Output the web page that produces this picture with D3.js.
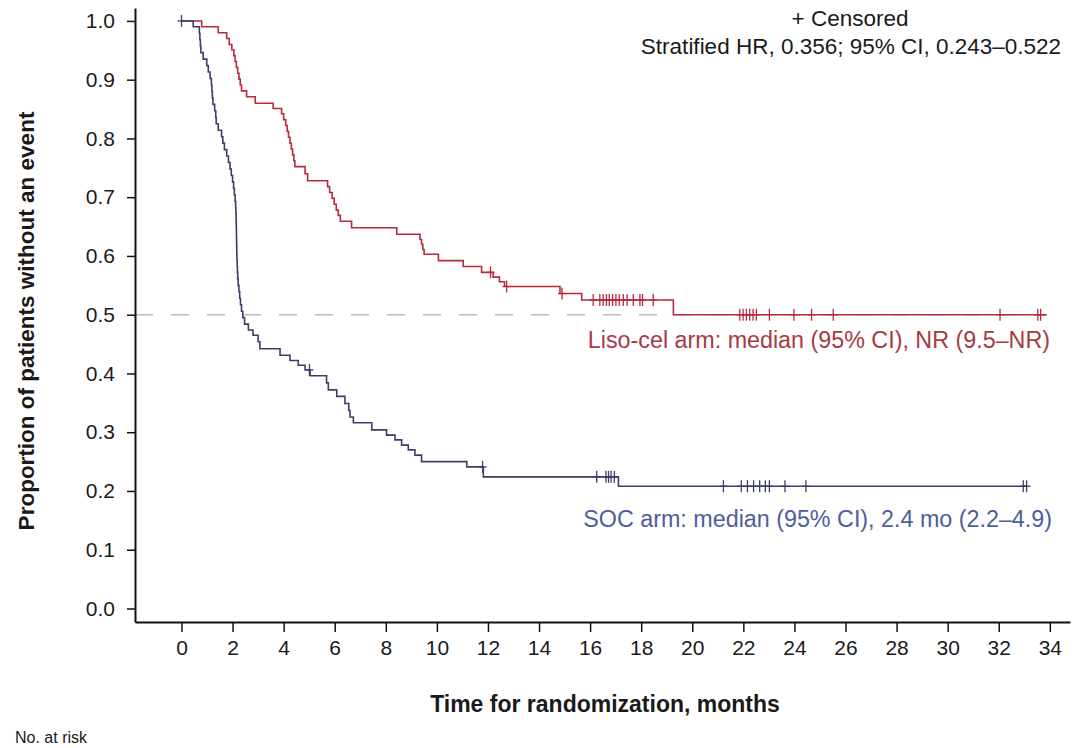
<!DOCTYPE html>
<html>
<head>
<meta charset="utf-8">
<script src="https://cdn.jsdelivr.net/npm/d3@7"></script>
<style>
  html, body { margin: 0; padding: 0; background: #ffffff; }
  svg { display: block; font-family: "Liberation Sans", Arial, sans-serif; }
</style>
</head>
<body>
<svg id="chart" width="1082" height="748"></svg>
<script>
// Kaplan–Meier event-free survival by arm (months from randomization)
const lisoEventTimes = [0.79, 1.44, 1.77, 1.87, 1.97, 2.05, 2.10, 2.15, 2.20, 2.25, 2.30, 2.35, 2.55, 2.89,
  3.59, 3.92, 4.00, 4.08, 4.14, 4.19, 4.25, 4.30, 4.35, 4.40, 4.44, 4.84, 4.94,
  5.72, 5.80, 5.90, 5.98, 6.06, 6.14, 6.22, 6.66, 8.43, 9.34, 9.40, 9.45, 9.50,
  10.06, 11.03, 11.75, 12.20, 12.45, 12.65, 14.82, 15.67, 19.26];
const lisoSurvival = [0.990, 0.980, 0.970, 0.960, 0.951, 0.941, 0.931, 0.921, 0.911, 0.901, 0.891, 0.881, 0.871, 0.860,
  0.851, 0.842, 0.832, 0.822, 0.812, 0.802, 0.792, 0.782, 0.772, 0.762, 0.752, 0.740, 0.728,
  0.718, 0.708, 0.698, 0.688, 0.678, 0.669, 0.659, 0.648, 0.637, 0.628, 0.620, 0.611, 0.603,
  0.592, 0.582, 0.572, 0.564, 0.556, 0.548, 0.536, 0.525, 0.500];
const lisoCensored = [12.10, 12.73, 14.90, 16.12, 16.38, 16.51, 16.64, 16.75, 16.88, 17.01, 17.14, 17.30, 17.45,
  17.69, 17.95, 18.05, 18.47, 21.86, 21.99, 22.12, 22.25, 22.38, 22.51, 23.02, 23.98, 24.67, 25.52,
  32.05, 33.53, 33.64];
const lisoLastFollowUp = 33.88;

const socEventTimes = [0.46, 0.70, 0.72, 0.74, 0.76, 0.85, 0.99, 1.05, 1.12, 1.17, 1.19, 1.21, 1.23, 1.30,
  1.34, 1.36, 1.44, 1.57, 1.62, 1.68, 1.77, 1.84, 1.90, 1.95, 2.00, 2.04, 2.07, 2.10, 2.12, 2.13,
  2.14, 2.145, 2.15, 2.155, 2.16, 2.165, 2.17, 2.18, 2.19, 2.20, 2.22, 2.25, 2.28, 2.31, 2.35,
  2.40, 2.47, 2.62, 2.80, 3.00, 3.07, 3.86, 4.25, 4.57, 4.84, 5.04, 5.68, 5.75, 6.08, 6.40,
  6.55, 6.60, 6.73, 7.45, 8.03, 8.36, 8.62, 8.88, 9.14, 9.40, 11.17, 11.82, 17.11];
const socSurvival = [0.990, 0.979, 0.968, 0.957, 0.946, 0.935, 0.924, 0.913, 0.902, 0.891, 0.880, 0.869, 0.858, 0.847,
  0.836, 0.825, 0.814, 0.803, 0.792, 0.781, 0.770, 0.759, 0.748, 0.737, 0.726, 0.715, 0.704, 0.693, 0.682, 0.671,
  0.660, 0.649, 0.638, 0.627, 0.616, 0.605, 0.594, 0.583, 0.572, 0.561, 0.550, 0.539, 0.528, 0.517, 0.506,
  0.495, 0.484, 0.474, 0.465, 0.454, 0.442, 0.431, 0.422, 0.414, 0.406, 0.396, 0.384, 0.372, 0.361, 0.349,
  0.337, 0.326, 0.316, 0.304, 0.295, 0.287, 0.278, 0.270, 0.261, 0.250, 0.241, 0.224, 0.208];
const socCensored = [0.0, 5.01, 11.79, 16.26, 16.62, 16.72, 16.82, 16.95, 21.22, 21.92, 22.16, 22.40, 22.64,
  22.86, 23.02, 23.63, 24.45, 32.96, 33.09];
const socLastFollowUp = 33.10;

const xTickValues = [0, 2, 4, 6, 8, 10, 12, 14, 16, 18, 20, 22, 24, 26, 28, 30, 32, 34];
const yTickValues = [0.0, 0.1, 0.2, 0.3, 0.4, 0.5, 0.6, 0.7, 0.8, 0.9, 1.0];
const medianLevel = 0.5;

const colors = { liso: "#b82a3c", lisoText: "#a63a44", soc: "#3b3f68", socText: "#4d5e9c" };

const svg = d3.select("#chart");
const x = d3.scaleLinear().domain([-1.82, 34.79]).range([135, 1070]);
const y = d3.scaleLinear().domain([-0.023, 1.022]).range([622, 8]);

// reference line at the median
svg.append("line")
  .attr("x1", x(-1.82)).attr("x2", x(lisoLastFollowUp))
  .attr("y1", y(medianLevel)).attr("y2", y(medianLevel))
  .attr("stroke", "#bdbdbd").attr("stroke-width", 1.4)
  .attr("stroke-dasharray", "18,18");

// axes
const xAxis = d3.axisBottom(x).tickValues(xTickValues).tickSize(10).tickSizeOuter(0).tickPadding(8)
  .tickFormat(d3.format("d"));
const yAxis = d3.axisLeft(y).tickValues(yTickValues).tickSize(8).tickSizeOuter(0).tickPadding(12)
  .tickFormat(d3.format(".1f"));

const gx = svg.append("g").attr("transform", `translate(0,${y.range()[0]})`).call(xAxis);
const gy = svg.append("g").attr("transform", `translate(${x.range()[0]},0)`).call(yAxis);
[gx, gy].forEach(g => {
  g.select(".domain").attr("stroke", "#111").attr("stroke-width", 2);
  g.selectAll(".tick line").attr("stroke", "#111").attr("stroke-width", 1.5);
  g.selectAll(".tick text").attr("fill", "#1a1a1a")
    .style("font-family", "'Liberation Sans', Arial, sans-serif").style("font-size", "21px");
});

// step curves
function stepPoints(times, surv, end) {
  const pts = [[0, 1]];
  times.forEach((t, i) => pts.push([t, surv[i]]));
  pts.push([end, surv[surv.length - 1]]);
  return pts;
}
function survivalAt(times, surv, t) {
  let s = 1;
  times.forEach((et, i) => { if (et <= t) s = surv[i]; });
  return s;
}
const line = d3.line().x(d => x(d[0])).y(d => y(d[1])).curve(d3.curveStepAfter);

const arms = [
  { times: lisoEventTimes, surv: lisoSurvival, cens: lisoCensored, end: lisoLastFollowUp, color: colors.liso },
  { times: socEventTimes, surv: socSurvival, cens: socCensored, end: socLastFollowUp, color: colors.soc }
];

arms.forEach(arm => {
  svg.append("path")
    .datum(stepPoints(arm.times, arm.surv, arm.end))
    .attr("d", line)
    .attr("fill", "none")
    .attr("stroke", arm.color)
    .attr("stroke-width", 1.6);

  // censoring marks
  const marks = svg.append("g").attr("stroke", arm.color).attr("stroke-width", 1.3);
  arm.cens.forEach(t => {
    const cx = x(t), cy = y(survivalAt(arm.times, arm.surv, t));
    marks.append("line").attr("x1", cx).attr("x2", cx).attr("y1", cy - 6).attr("y2", cy + 6);
    marks.append("line").attr("x1", cx - 4).attr("x2", cx + 4).attr("y1", cy).attr("y2", cy);
  });
});

// annotations
const txt = (s, px, py, opts = {}) => svg.append("text")
  .attr("x", px).attr("y", py)
  .attr("text-anchor", opts.anchor || "start")
  .attr("fill", opts.fill || "#1a1a1a")
  .style("font-size", (opts.size || 22.5) + "px")
  .style("font-weight", opts.weight || "normal")
  .text(s);

txt("+ Censored", 850, 26, { anchor: "middle" });
txt("Stratified HR, 0.356; 95% CI, 0.243\u20130.522", 851, 54, { anchor: "middle" });
txt("Liso-cel arm: median (95% CI), NR (9.5\u2013NR)", 1050, 348, { anchor: "end", fill: colors.lisoText, size: 23.3 });
txt("SOC arm: median (95% CI), 2.4 mo (2.2\u20134.9)", 1052, 527, { anchor: "end", fill: colors.socText, size: 23.3 });

txt("Time for randomization, months", 605, 712, { anchor: "middle", weight: "bold", size: 23 });
txt("No. at risk", 15, 743, { size: 16 });

svg.append("text")
  .attr("transform", "translate(34,321) rotate(-90)")
  .attr("text-anchor", "middle")
  .attr("fill", "#1a1a1a")
  .style("font-size", "22.5px").style("font-weight", "bold")
  .text("Proportion of patients without an event");
</script>
</body>
</html>
